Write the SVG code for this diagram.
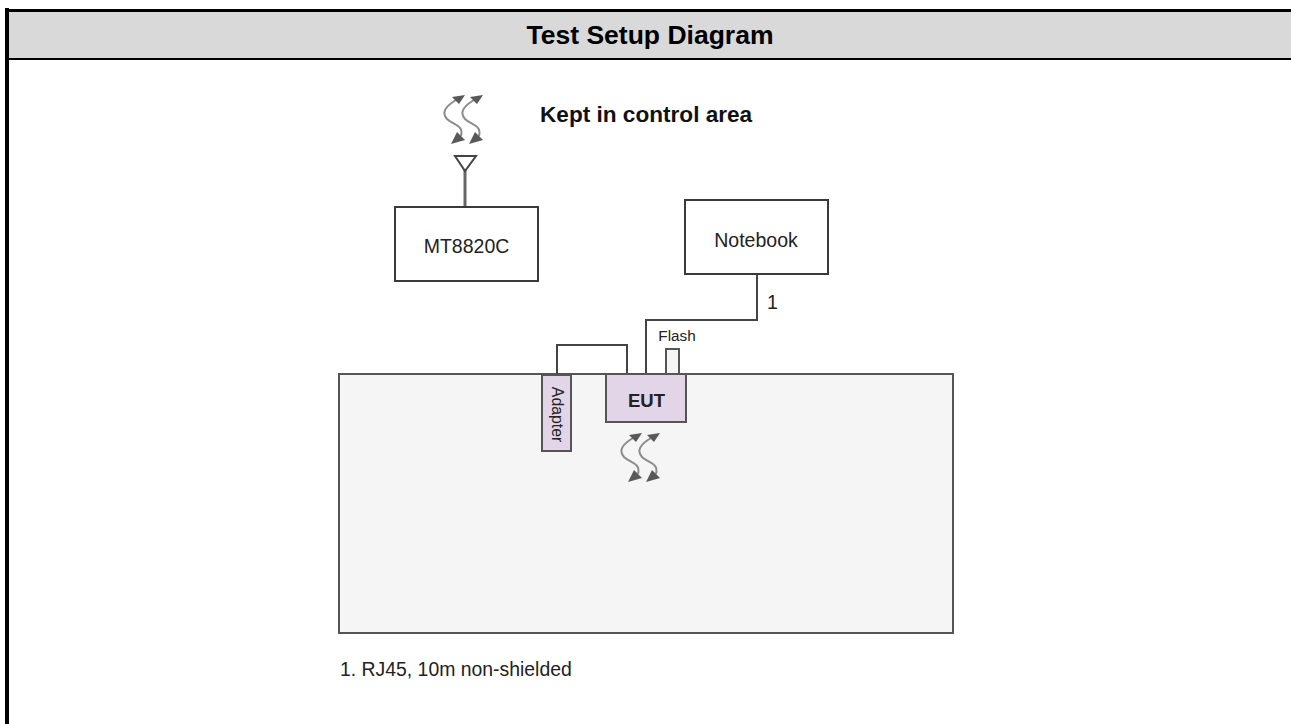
<svg xmlns="http://www.w3.org/2000/svg" width="1291" height="724" viewBox="0 0 1291 724">
<style>
text{font-family:"Liberation Sans",Arial,sans-serif;fill:#222}
.b{fill:#fff;stroke:#3a3a3a;stroke-width:2}
.eut{fill:#e1d5e7;stroke:#555;stroke-width:2}
.c{fill:none;stroke:#444;stroke-width:2}
.sq{fill:none;stroke:#8c8c8c;stroke-width:2}
.hd{fill:#595959}
</style>
<defs>
<g id="wave">
<path class="sq" d="M456 100C446 106 441 112 447 119C453 125 464 125 461 136"/>
<path class="hd" d="M465 95L452 97L459 104ZM451 144L457 132L465 140Z"/>
</g>
</defs>
<rect id="header" x="7" y="10" width="1284" height="49" fill="#d9d9d9"/>
<g id="frame" fill="#000">
<rect x="5" y="8" width="4" height="716"/>
<rect x="5" y="9" width="1286" height="3"/>
<rect x="5" y="58" width="1286" height="2"/>
</g>
<text x="650" y="44" font-size="26.5" font-weight="bold" text-anchor="middle" style="fill:#000">Test Setup Diagram</text>
<g id="table"><rect x="339" y="374" width="614" height="259" fill="#f5f5f5" stroke="#555" stroke-width="2"/></g>
<g id="connectors">
<path class="c" d="M557 374V345H627V374"/>
<path class="c" d="M646 374V320H757V274"/>
<path d="M465 207V170" fill="none" stroke="#666" stroke-width="3"/>
<path d="M455 156H476L465 171Z" fill="none" stroke="#444" stroke-width="2"/>
<rect x="666" y="349" width="13" height="25" fill="#f5f5f5" stroke="#555" stroke-width="2"/>
</g>
<use href="#wave"/><use href="#wave" x="18"/>
<use href="#wave" x="177" y="338"/><use href="#wave" x="195" y="338"/>
<text id="kept" x="540" y="122" font-size="22.6" font-weight="bold" style="fill:#111">Kept in control area</text>
<g id="mt8820c"><rect class="b" x="395" y="207" width="143" height="74"/><text x="466.500" y="253" font-size="19.500" text-anchor="middle">MT8820C</text></g>
<g id="notebook"><rect class="b" x="685" y="200" width="143" height="74"/><text x="756" y="247" font-size="19.500" text-anchor="middle">Notebook</text></g>
<text id="label1" x="767" y="309" font-size="19.500">1</text>
<text id="flash" x="677" y="341" font-size="15.300" text-anchor="middle">Flash</text>
<g id="adapter"><rect class="eut" x="542" y="375" width="29" height="76"/><text transform="translate(552 414.500) rotate(90)" font-size="15.800" text-anchor="middle">Adapter</text></g>
<g id="eut"><rect class="eut" x="606" y="374" width="80" height="48"/><text x="646.500" y="407" font-size="18.500" font-weight="bold" text-anchor="middle">EUT</text></g>
<text id="note" x="340" y="676" font-size="19.400">1. RJ45, 10m non-shielded</text>
</svg>
